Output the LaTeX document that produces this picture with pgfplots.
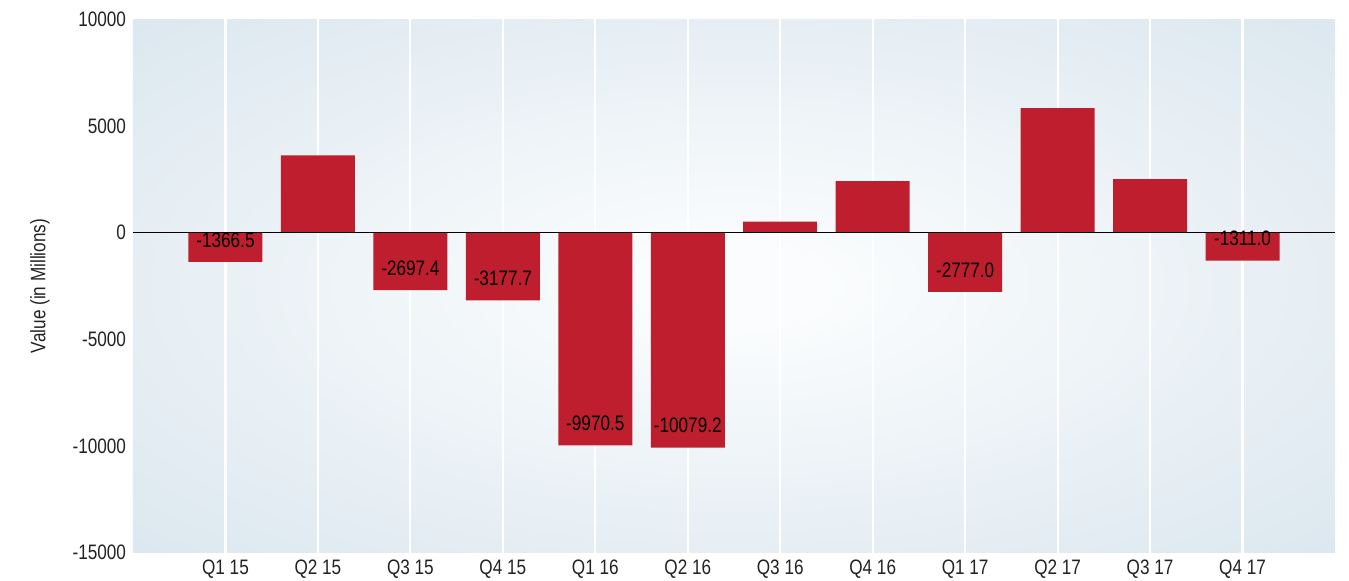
\documentclass[border=0pt]{standalone}
\usepackage{pgfplots}
\pgfplotsset{compat=1.18}
\usepackage{fontspec}
\setmainfont{Liberation Sans}[FakeStretch=0.82]
\definecolor{barred}{HTML}{BE1E2D}
\definecolor{bgouter}{HTML}{D7E4ED}
\definecolor{bginner}{HTML}{FAFCFD}
\definecolor{txt}{HTML}{222222}
\pgfdeclareradialshading{bgshade}{\pgfpoint{0bp}{0bp}}{color(0bp)=(bginner); color(4bp)=(bginner); color(40bp)=(bgouter); color(100bp)=(bgouter)}
\begin{document}
\begin{tikzpicture}
\useasboundingbox (-66.5bp,-14.25bp) rectangle (608bp,276.25bp);
\begin{axis}[
  scale only axis, width=601bp, height=266.5bp,
  xmin=-1, xmax=12, ymin=-15000, ymax=10000,
  ytick={-15000,-10000,-5000,0,5000,10000},
  xtick={0,1,2,3,4,5,6,7,8,9,10,11},
  xticklabels={Q1 15,Q2 15,Q3 15,Q4 15,Q1 16,Q2 16,Q3 16,Q4 16,Q1 17,Q2 17,Q3 17,Q4 17},
  axis line style={draw=none},
  major tick length=0pt,
  xmajorgrids,
  major grid style={white, line width=1.1bp},
  tick label style={font=\fontsize{10.5}{12}\selectfont, text=txt},
  /pgf/number format/assume math mode=true,
  /pgf/number format/1000 sep={},
  scaled y ticks=false,
  ylabel={Value (in Millions)},
  ylabel style={at={(axis description cs:-0.0774,0.5)}, anchor=center, font=\fontsize{10.5}{12}\selectfont, text=txt},
  axis background/.style={shading=bgshade},
]
\addplot[ybar, bar width=37bp, bar shift=0pt, fill=barred, draw=none]
  coordinates {(1,3630) (6,515) (7,2420) (9,5840) (10,2510)};
\addplot[ybar, bar width=37bp, bar shift=0pt, fill=barred, draw=none,
  point meta=explicit symbolic, nodes near coords,
  nodes near coords style={anchor=center, yshift=11bp, font=\fontsize{10.5}{12}\selectfont, text=black}]
  coordinates {(0,-1366.5) [-1366.5] (2,-2697.4) [-2697.4] (3,-3177.7) [-3177.7]
               (4,-9970.5) [-9970.5] (5,-10079.2) [-10079.2] (8,-2777.0) [-2777.0]
               (11,-1311.0) [-1311.0]};
\addplot[black, line width=0.6bp, sharp plot, no marks, forget plot] coordinates {(-1,0) (12,0)};
\end{axis}
\end{tikzpicture}
\end{document}
